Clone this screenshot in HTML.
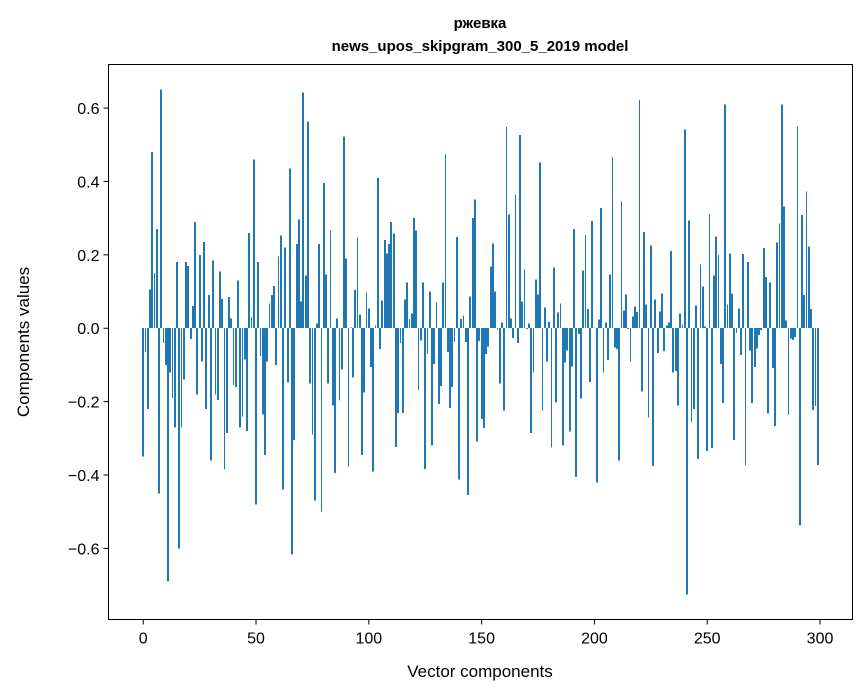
<!DOCTYPE html>
<html><head><meta charset="utf-8"><style>
body{margin:0;background:#fff;}
svg{display:block;font-family:"Liberation Sans","DejaVu Sans",sans-serif;}
</style></head><body>
<svg id="chart" width="867" height="696" viewBox="0 0 867 696" xmlns="http://www.w3.org/2000/svg">
<rect x="0" y="0" width="867" height="696" fill="#fff"/>
<text x="480" y="28" text-anchor="middle" font-size="15" font-weight="bold">ржевка</text>
<text x="480" y="51" text-anchor="middle" font-size="15" font-weight="bold">news_upos_skipgram_300_5_2019 model</text>
<g id="bars" shape-rendering="crispEdges"></g>
<g id="xticks"></g>
<g id="yticks"></g>
<rect x="108.5" y="64.5" width="744" height="555" fill="none" stroke="#000" stroke-width="1"/>
<text x="480" y="677" text-anchor="middle" font-size="17">Vector components</text>
<text transform="translate(29,342) rotate(-90)" text-anchor="middle" font-size="17">Components values</text>
</svg>
<script>
const values = [-0.35,-0.065,-0.22,0.106,0.48,0.15,0.27,-0.45,0.65,-0.04,-0.1,-0.69,-0.12,-0.19,-0.27,0.18,-0.6,-0.27,-0.14,0.18,0.17,-0.03,0.06,0.29,-0.18,0.2,-0.09,0.235,-0.22,0.09,-0.36,0.185,-0.18,-0.195,0.155,0.08,-0.385,-0.285,0.085,0.027,-0.155,-0.16,0.13,-0.27,-0.24,-0.085,-0.28,0.26,0.03,0.46,
-0.48,0.18,-0.075,-0.235,-0.345,-0.09,0.067,0.09,0.115,-0.1,0.195,0.253,-0.44,0.22,-0.148,0.435,-0.617,-0.305,0.23,0.297,0.073,0.643,0.144,0.564,-0.15,-0.29,-0.47,0.013,0.23,-0.5,0.396,0.147,-0.15,0.267,-0.21,-0.395,0.027,-0.197,-0.112,0.523,0.19,-0.377,0.002,-0.134,0.104,0.247,0.038,-0.346,-0.175,0.098,
0.054,-0.106,-0.39,0.007,0.41,-0.057,0.076,0.24,0.204,0.229,0.289,0.258,-0.324,-0.231,-0.04,-0.231,0.078,0.125,0.025,0.04,0.3,0.267,-0.168,-0.033,0.125,-0.384,-0.07,0.1,-0.319,-0.098,0.07,-0.207,-0.158,0.125,0.474,-0.065,-0.218,-0.16,-0.038,0.248,-0.412,0.025,0.035,-0.038,-0.455,0.087,0.3,0.351,-0.308,-0.035,
-0.248,-0.272,-0.07,-0.05,0.168,0.231,0.1,-0.003,-0.15,0.016,-0.224,0.548,0.31,0.027,-0.027,0.365,-0.04,0.526,0.073,0.16,-0.002,0.013,-0.286,-0.12,0.133,0.092,0.452,-0.224,0.057,-0.09,0.017,-0.325,0.166,-0.202,0.043,0.068,-0.319,-0.093,-0.06,-0.281,-0.104,0.27,-0.406,-0.016,-0.191,0.158,0.254,0.052,-0.147,0.292,
0.002,-0.42,0.024,0.327,-0.12,0.016,-0.087,0.147,0.466,-0.052,-0.057,-0.36,0.345,0.049,0.092,-0.002,-0.09,0.032,0.059,0.044,0.622,-0.172,0.262,0.065,-0.243,0.226,-0.376,0.079,-0.068,0.046,0.095,-0.062,0.007,0.016,0.21,-0.12,-0.117,-0.21,0.04,0.01,0.542,-0.725,0.294,-0.256,-0.22,0.062,-0.357,0.174,0.114,0.005,
-0.335,0.311,-0.327,0.144,0.25,0.199,-0.098,-0.204,0.61,0.065,0.204,0.095,-0.305,-0.013,0.054,-0.073,0.202,-0.373,0.18,-0.06,-0.204,-0.106,-0.055,-0.019,-0.005,0.218,0.139,-0.232,0.125,-0.109,-0.267,0.234,0.286,0.61,0.332,0.021,-0.237,-0.028,-0.032,-0.024,0.55,-0.537,0.308,0.09,0.372,0.223,0.052,-0.223,-0.212,-0.373];
const xTickValues = [0,50,100,150,200,250,300];
const yTickValues = [-0.6,-0.4,-0.2,0.0,0.2,0.4,0.6];
const yTickLabels = ["\u22120.6","\u22120.4","\u22120.2","0.0","0.2","0.4","0.6"];

const NS="http://www.w3.org/2000/svg";
const L=108.5,R=852.5,T=64.5,B=619.5;
const n=values.length;
const xmin=-0.4-0.05*(n-1+0.8), xmax=n-1+0.4+0.05*(n-1+0.8);
const vmin=Math.min(0,...values), vmax=Math.max(0,...values);
const pad=(vmax-vmin)*0.05;
const ymin=vmin-pad, ymax=vmax+pad;
function xs(v){return L+(v-xmin)/(xmax-xmin)*(R-L);}
function ys(v){return B-(v-ymin)/(ymax-ymin)*(B-T);}
const bars=document.getElementById('bars');
values.forEach((v,i)=>{
  const r=document.createElementNS(NS,'rect');
  const x0=Math.round(xs(i-0.4)),x1=Math.max(Math.round(xs(i+0.4)),x0+1);
  r.setAttribute('x',x0);r.setAttribute('width',x1-x0);
  r.setAttribute('y',Math.min(ys(v),ys(0)));r.setAttribute('height',Math.abs(ys(v)-ys(0)));
  r.setAttribute('fill','#1f77b4');
  
  
  bars.appendChild(r);
});
const xg=document.getElementById('xticks');
xTickValues.forEach(t=>{
  const x=xs(t);
  const l=document.createElementNS(NS,'line');
  l.setAttribute('x1',x);l.setAttribute('x2',x);l.setAttribute('y1',B);l.setAttribute('y2',B+5);
  l.setAttribute('stroke','#000');
  
  
  xg.appendChild(l);
  const s=document.createElementNS(NS,'text');
  s.setAttribute('x',x);s.setAttribute('y',B+24);s.setAttribute('text-anchor','middle');s.setAttribute('font-size','16');
  s.textContent=String(t);
  
  
  xg.appendChild(s);
});
const yg=document.getElementById('yticks');
yTickValues.forEach((t,i)=>{
  const y=ys(t);
  const l=document.createElementNS(NS,'line');
  l.setAttribute('x1',L-5);l.setAttribute('x2',L);l.setAttribute('y1',y);l.setAttribute('y2',y);
  l.setAttribute('stroke','#000');
  
  
  yg.appendChild(l);
  const s=document.createElementNS(NS,'text');
  s.setAttribute('x',L-9);s.setAttribute('y',y+6);s.setAttribute('text-anchor','end');s.setAttribute('font-size','16');
  s.textContent=yTickLabels[i];
  
  
  yg.appendChild(s);
});
</script>
</body></html>
